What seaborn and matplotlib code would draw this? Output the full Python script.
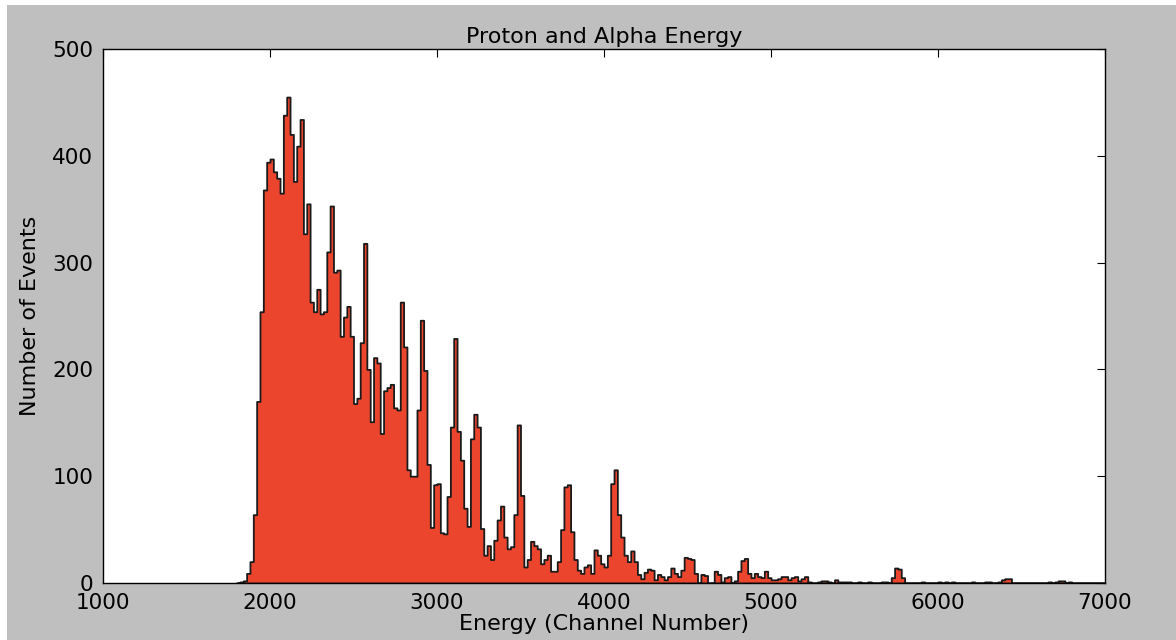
import numpy as np
import pandas as pd
import matplotlib
matplotlib.use("Agg")
import matplotlib.pyplot as plt
import seaborn as sns
from matplotlib.patches import Rectangle

# ---- data: counts per 20-channel bin ----
bin_width = 20
first_bin = 1800
counts_1800 = [0, 1, 2, 9, 20, 64, 170, 254, 368, 394,
               397, 385, 379, 365, 438, 455, 420, 376, 409, 434,
               327, 355, 263, 254, 275, 252, 254, 310, 353, 291,
               293, 231, 249, 259, 231, 168, 173, 225, 318, 200,
               151, 211, 206, 140, 180, 183, 186, 164, 162, 263,
               221, 106, 100, 100, 162, 246, 199, 111, 52, 92]
counts_3000 = [93, 47, 46, 81, 146, 229, 142, 115, 70, 53,
               135, 158, 146, 51, 26, 35, 22, 40, 59, 72,
               43, 32, 34, 64, 148, 82, 15, 22, 39, 35,
               32, 18, 22, 26, 11, 11, 20, 50, 90, 92,
               48, 22, 12, 9, 15, 17, 9, 31, 26, 18]
counts_4000 = [15, 26, 93, 106, 64, 43, 26, 20, 30, 20,
               8, 4, 10, 13, 12, 3, 8, 6, 3, 6,
               14, 9, 6, 12, 24, 23, 22, 9, 0, 8,
               7, 0, 0, 11, 8, 1, 5, 6, 0, 2,
               11, 21, 23, 9, 5, 9, 6, 5, 11, 5]
counts_5000 = [3, 3, 4, 6, 6, 3, 5, 6, 2, 4,
               6, 1, 0, 0, 1, 2, 2, 1, 0, 3,
               1, 1, 1, 1, 0, 0, 1, 0, 0, 1,
               0, 0, 0, 1, 1, 0, 5, 14, 13, 5,
               0, 0, 0, 0, 0, 1, 0, 0, 0, 0]
counts_6000 = [1, 0, 1, 0, 1, 0, 0, 0, 0, 0,
               1, 0, 0, 0, 1, 1, 0, 0, 1, 3,
               4, 4, 0, 0, 0, 0, 0, 0, 0, 0,
               0, 0, 0, 1, 0, 1, 2, 2, 0, 1,
               0, 0, 0, 0, 0, 0, 0, 0, 0, 0]

title = "Proton and Alpha Energy"
xlabel = "Energy (Channel Number)"
ylabel = "Number of Events"
xticks = [1000, 2000, 3000, 4000, 5000, 6000, 7000]
yticks = [0, 100, 200, 300, 400, 500]

counts = np.array(counts_1800 + counts_3000 + counts_4000 + counts_5000 + counts_6000, dtype=float)
n_bins = len(counts)
last_edge = first_bin + bin_width * n_bins
centers = first_bin + bin_width * (np.arange(n_bins) + 0.5)
df = pd.DataFrame({"channel": centers, "events": counts})

sns.set_style("white")
plt.rcParams["font.family"] = ["DejaVu Sans"]

fig = plt.figure(figsize=(11.76, 6.4), dpi=100, facecolor="#bfbfbf")
ax = fig.add_axes([103 / 1176, 1 - 583 / 640, (1105 - 103) / 1176, (583 - 49) / 640])
ax.set_facecolor("white")

# screenshot-like light border strips
fig.patches.append(Rectangle((0, 1 - 5 / 640), 1, 5 / 640, transform=fig.transFigure,
                             facecolor="white", edgecolor="none", zorder=-1))
fig.patches.append(Rectangle((0, 0), 7 / 1176, 1, transform=fig.transFigure,
                             facecolor="white", edgecolor="none", zorder=-1))

sns.histplot(data=df, x="channel", weights="events", binwidth=bin_width,
             binrange=(first_bin, last_edge), element="step",
             fill=True, color="#ec452e", alpha=1.0, edgecolor="#1a1a1a", linewidth=1.3, ax=ax)

ax.set_xlim(1000, 7000)
ax.set_ylim(0, 500)
ax.set_xticks(xticks)
ax.set_yticks(yticks)
ax.tick_params(direction="in", top=True, right=True, length=6, width=0.8,
               labelsize=15.5, color="black", labelcolor="black", pad=7)
for s in ax.spines.values():
    s.set_visible(True)
    s.set_color("black")
    s.set_linewidth(1.0)

ax.set_title(title, fontsize=16, color="black", pad=4)
ax.set_xlabel(xlabel, fontsize=16, color="black", labelpad=1)
ax.set_ylabel(ylabel, fontsize=16, color="black", labelpad=9)

fig.savefig("out.png", dpi=100, facecolor=fig.get_facecolor())
